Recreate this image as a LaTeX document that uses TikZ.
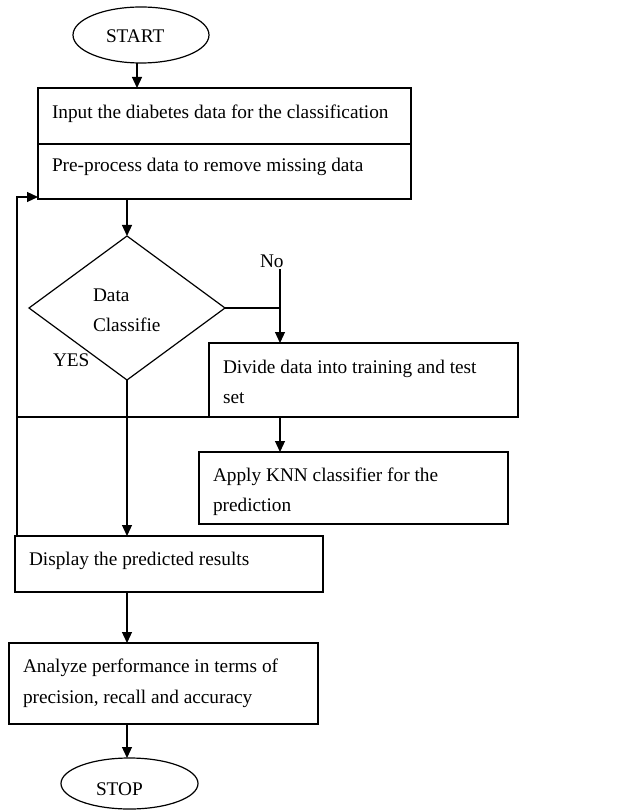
\documentclass[tikz,border=0pt]{standalone}
\usepackage{fontspec}
\setmainfont{Liberation Serif}
\usetikzlibrary{shapes.geometric,arrows.meta}
\begin{document}
\begin{tikzpicture}[x=1pt,y=-1pt,line width=1.2pt,
  every node/.style={inner sep=0pt,outer sep=0pt},
  boxnode/.style={draw,rectangle,anchor=north west},
  term/.style={draw,ellipse},
  txt/.style={anchor=base west,font=\fontsize{19.3}{23}\selectfont},
  arr/.style={-{Triangle[length=11pt,width=10pt]}}]
\useasboundingbox (0,0) rectangle (624,810);
% start
\node[term,minimum width=136pt,minimum height=56pt] (start) at (141,35) {};
\node[txt] (tstart) at (106,43) {START};
% box 1
\node[boxnode,minimum width=373pt,minimum height=56pt] (b1a) at (38,88) {};
\node[boxnode,minimum width=373pt,minimum height=55pt] (b1b) at (38,144) {};
\node[txt] (t1a) at (52,119) {Input the diabetes data for the classification};
\node[txt] (t1b) at (52,172) {Pre-process data to remove missing data};
% decision
\node[draw,diamond,minimum width=196pt,minimum height=144pt,aspect=1.36] (dec) at (127,308) {};
\node[txt] (td1) at (93,301) {Data};
\node[txt] (td2) at (93,331) {Classifie};
\node[txt] (tno) at (260,267) {No};
\node[txt] (tyes) at (53,366) {YES};
% box 2
\node[boxnode,minimum width=309pt,minimum height=74pt] (b2) at (209,343) {};
\node[txt] (t2a) at (223,373) {Divide data into training and test};
\node[txt] (t2b) at (223,403) {set};
% knn
\node[boxnode,minimum width=309pt,minimum height=72pt] (b3) at (199,452) {};
\node[txt] (t3a) at (213,481) {Apply KNN classifier for the};
\node[txt] (t3b) at (213,511) {prediction};
% display
\node[boxnode,minimum width=308pt,minimum height=56pt] (b4) at (15,536) {};
\node[txt] (t4) at (29,565) {Display the predicted results};
% analyze
\node[boxnode,minimum width=309pt,minimum height=81pt] (b5) at (9,643) {};
\node[txt] (t5a) at (23,672) {Analyze performance in terms of};
\node[txt] (t5b) at (23,703) {precision, recall and accuracy};
% stop
\node[term,minimum width=137pt,minimum height=51pt] (stop) at (129.5,783.5) {};
\node[txt] (tstop) at (96,795) {STOP};
% coordinates
\coordinate (nojoin) at (280,308);
\coordinate (notop) at (280,269);
\coordinate (loopbot) at (17,537);
\coordinate (looptop) at (17,197);
\coordinate (loopend) at (38,197);
\coordinate (hl) at (17,417);
% connectors
\draw[arr] (start.south -| 137,0) -- (b1a.north -| 137,0);
\draw[arr] (b1b.south -| dec.north) -- (dec.north);
\draw (dec.east) -- (nojoin);
\draw[arr] (notop) -- (b2.north -| notop);
\draw[arr] (b2.south -| notop) -- (b3.north -| notop);
\draw (hl) -- (b2.south west);
\draw[arr] (loopbot) -- (looptop) -- (loopend);
\draw[arr] (dec.south) -- (b4.north -| dec.south);
\draw[arr] (b4.south -| dec.south) -- (b5.north -| dec.south);
\draw[arr] (b5.south -| dec.south) -- (stop.north -| dec.south);
\end{tikzpicture}
\end{document}
